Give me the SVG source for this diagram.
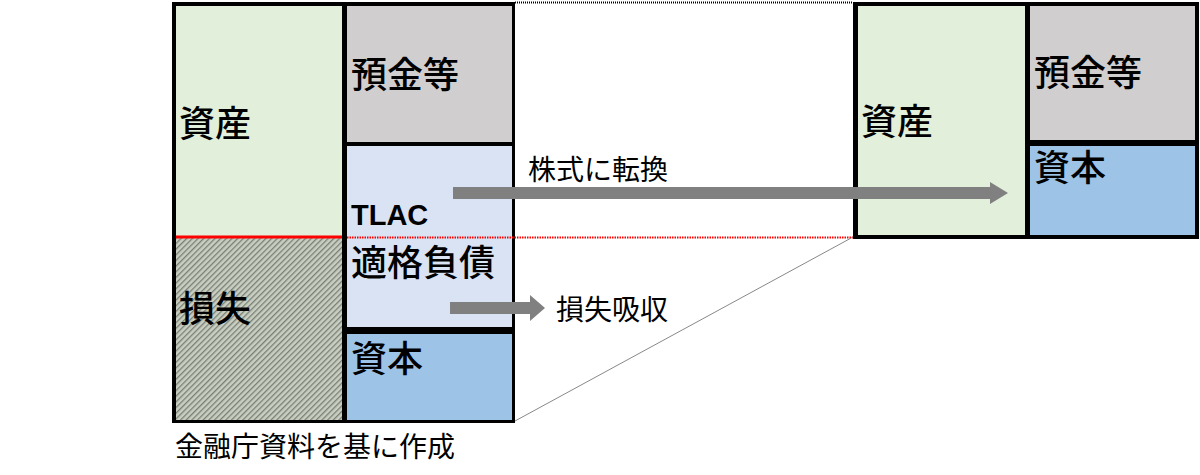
<svg xmlns="http://www.w3.org/2000/svg" width="1200" height="475" viewBox="0 0 1200 475">
<style>
.t{font-family:"Noto Sans CJK JP",sans-serif;font-size:36px;font-weight:500;fill:#000}
.s{font-family:"Noto Sans CJK JP",sans-serif;font-size:28px;fill:#000}
</style>
<defs>
<pattern id="h" width="4" height="4" patternUnits="userSpaceOnUse" patternTransform="rotate(45)">
<rect width="4" height="4" fill="#c9cec2"/><rect width="1.3" height="4" fill="#7a7f74"/>
</pattern>
</defs>
<rect x="0" y="0" width="1200" height="475" fill="#fff"/>
<g id="left">
<rect x="172" y="2" width="343" height="421" fill="#000"/>
<g id="asset-l"><rect x="176" y="6" width="166" height="231" fill="#e2efda"/><text class="t" x="179" y="137">資産</text></g>
<g id="loss"><rect x="176" y="237" width="166" height="183" fill="url(#h)"/><text class="t" x="179" y="322">損失</text></g>
<g id="dep-l"><rect x="347" y="6" width="165" height="136" fill="#d0cece"/><text class="t" x="351" y="88">預金等</text></g>
<g id="tlac"><rect x="347" y="146" width="165" height="181" fill="#dae3f3"/><text x="351" y="225" font-family="Liberation Sans,sans-serif" font-weight="bold" font-size="29">TLAC</text><text class="t" x="351" y="276">適格負債</text></g>
<g id="cap-l"><rect x="347" y="334" width="165" height="86" fill="#9dc3e6"/><text class="t" x="351" y="372">資本</text></g>
</g>
<g id="right">
<rect x="853" y="2" width="346" height="237" fill="#000"/>
<g id="asset-r"><rect x="858" y="6" width="167" height="229" fill="#e2efda"/><text class="t" x="861" y="135">資産</text></g>
<g id="dep-r"><rect x="1030" y="6" width="165" height="134" fill="#d0cece"/><text class="t" x="1034" y="86">預金等</text></g>
<g id="cap-r"><rect x="1030" y="146" width="165" height="89" fill="#9dc3e6"/><text class="t" x="1034" y="181">資本</text></g>
</g>
<g id="connectors">
<line x1="176" y1="237" x2="342" y2="237" stroke="#ff0000" stroke-width="3"/>
<line x1="347" y1="237.5" x2="853" y2="237.5" stroke="#ff0000" stroke-width="2" stroke-dasharray="1.5 1"/>
<line x1="515" y1="2.5" x2="853" y2="2.5" stroke="#000" stroke-width="2" stroke-dasharray="1 1"/>
<line x1="515" y1="421" x2="853" y2="237" stroke="#888" stroke-width="1"/>
<polygon points="453,187 990,187 990,182 1008,193 990,204 990,199 453,199" fill="#808080"/>
<polygon points="450,302 530,302 530,295 545,308 530,321 530,314 450,314" fill="#808080"/>
</g>
<text class="s" x="528" y="180">株式に転換</text>
<text class="s" x="556" y="320">損失吸収</text>
<text class="s" x="175" y="457">金融庁資料を基に作成</text>
</svg>
